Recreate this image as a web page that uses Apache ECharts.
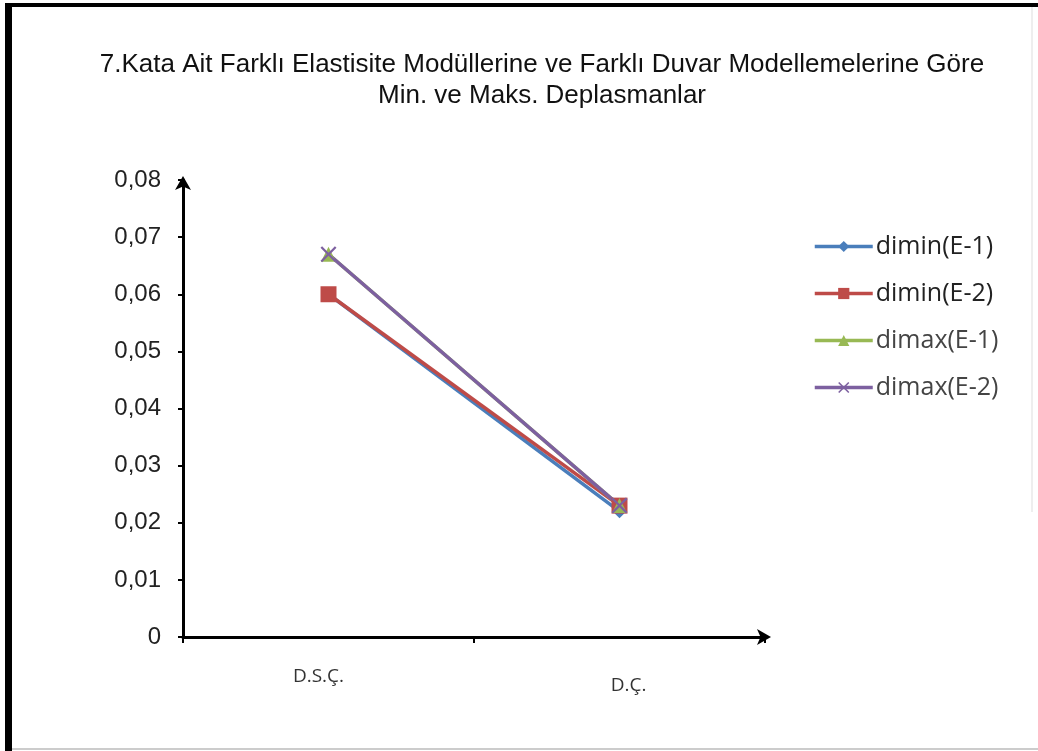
<!DOCTYPE html>
<html>
<head>
<meta charset="utf-8">
<script src="https://cdn.jsdelivr.net/npm/echarts@6/dist/echarts.min.js"></script>
<style>
  html, body { margin: 0; padding: 0; background: #fff; }
  #chart { width: 1038px; height: 751px; }
</style>
</head>
<body>
<div id="chart"></div>
<script>
// veriler
var categories = ['D.S.Ç.', 'D.Ç.'];
var diminE1 = [0.060, 0.022];
var diminE2 = [0.060, 0.023];
var dimaxE1 = [0.067, 0.023];
var dimaxE2 = [0.067, 0.023];
var yTicks = [0, 0.01, 0.02, 0.03, 0.04, 0.05, 0.06, 0.07, 0.08];

(function () {
  var myChart = echarts.init(document.getElementById('chart'));
  // X işareti için yol
  var crossPath = 'path://M0,1 L1,0 L5,4 L9,0 L10,1 L6,5 L10,9 L9,10 L5,6 L1,10 L0,9 L4,5 Z';

  function mkSeries(name, data, color, symbol, size) {
    return {
      name: name,
      type: 'line',
      data: data,
      symbol: symbol,
      symbolSize: size,
      showSymbol: true,
      lineStyle: { color: color, width: 3.5 },
      itemStyle: { color: color, borderWidth: 0 },
      emphasis: { disabled: true }
    };
  }

  var option = {
    animation: false,
    backgroundColor: '#fff',
    title: {
      text: '7.Kata Ait Farklı Elastisite Modüllerine ve Farklı Duvar Modellemelerine Göre\nMin. ve Maks. Deplasmanlar',
      left: 537,
      top: 44,
      textAlign: 'center',
      textStyle: {
        fontFamily: 'Liberation Sans',
        fontSize: 26,
        fontWeight: 'normal',
        color: '#111',
        lineHeight: 31
      }
    },
    legend: {
      orient: 'vertical',
      left: 808,
      top: 229,
      itemWidth: 58,
      itemHeight: 14,
      itemGap: 22,
      lineStyle: { width: 3.5 },
      textStyle: { fontFamily: 'Open Sans', fontSize: 25, color: '#222', padding: [0, 0, 0, -2] },
      data: [
        { name: 'dimin(E-1)' },
        { name: 'dimin(E-2)' },
        { name: 'dimax(E-1)', textStyle: { color: '#444' } },
        { name: 'dimax(E-2)', textStyle: { color: '#444' } }
      ]
    },
    grid: { left: 183, right: 273, top: 180, bottom: 114 },
    xAxis: {
      type: 'category',
      data: [
        { value: categories[0], textStyle: { padding: [0, 20, 0, 0] } },
        { value: categories[1], textStyle: { padding: [9, 0, 0, 18] } }
      ],
      boundaryGap: true,
      axisLine: {
        lineStyle: { color: '#000', width: 3 },
        symbol: ['none', 'arrow'],
        symbolSize: [12, 14],
        symbolOffset: [0, 6]
      },
      axisTick: { show: true, length: 6, lineStyle: { color: '#000', width: 2 } },
      axisLabel: {
        fontFamily: 'Open Sans',
        fontSize: 19,
        color: '#333',
        margin: 30
      },
      splitLine: { show: false }
    },
    yAxis: {
      type: 'value',
      min: 0,
      max: 0.08,
      interval: 0.01,
      axisLine: {
        show: true,
        lineStyle: { color: '#000', width: 3 },
        symbol: ['none', 'arrow'],
        symbolSize: [12, 14],
        symbolOffset: [0, 4]
      },
      axisTick: { show: true, length: 5, lineStyle: { color: '#000', width: 2 } },
      axisLabel: {
        fontFamily: 'Liberation Sans',
        fontSize: 24,
        color: '#222',
        margin: 22,
        formatter: function (v) {
          var t = yTicks.indexOf(Math.round(v * 100) / 100);
          if (t < 0) return '';
          return v === 0 ? '0' : v.toFixed(2).replace('.', ',');
        }
      },
      splitLine: { show: false }
    },
    series: [
      mkSeries('dimin(E-1)', diminE1, '#4A7EBB', 'diamond', 14),
      mkSeries('dimin(E-2)', diminE2, '#BE4B48', 'rect', 16),
      mkSeries('dimax(E-1)', dimaxE1, '#98B954', 'triangle', 15),
      mkSeries('dimax(E-2)', dimaxE2, '#7D60A0', crossPath, 16)
    ],
    graphic: [
      { type: 'rect', shape: { x: 5, y: 3, width: 7, height: 748 }, style: { fill: '#000' } },
      { type: 'rect', shape: { x: 5, y: 3, width: 1033, height: 4 }, style: { fill: '#000' } },
      { type: 'line', shape: { x1: 1032, y1: 7, x2: 1032, y2: 512 }, style: { stroke: '#ddd', lineWidth: 1 } },
      { type: 'line', shape: { x1: 12, y1: 749, x2: 1038, y2: 749 }, style: { stroke: '#ccc', lineWidth: 2 } }
    ]
  };
  myChart.setOption(option);
})();
</script>
</body>
</html>
